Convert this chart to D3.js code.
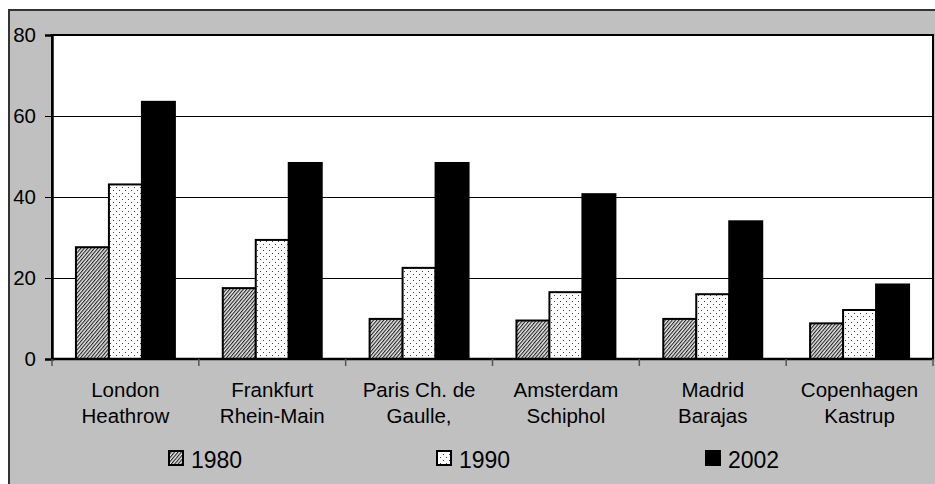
<!DOCTYPE html>
<html><head><meta charset="utf-8">
<script src="https://cdn.jsdelivr.net/npm/d3@7"></script>
<style>html,body{margin:0;padding:0;background:#fff;}svg{display:block;font-family:"Liberation Sans",Arial,sans-serif;}</style>
</head><body>
<svg id="c" width="935" height="484"></svg>
<script>
const categories = ["London\nHeathrow","Frankfurt\nRhein-Main","Paris Ch. de\nGaulle,","Amsterdam\nSchiphol","Madrid\nBarajas","Copenhagen\nKastrup"];
const seriesNames = ["1980","1990","2002"];
const values1980 = [27.6, 17.5, 9.9, 9.5, 9.9, 8.8];
const values1990 = [43.1, 29.4, 22.5, 16.5, 16.0, 12.1];
const values2002 = [63.5, 48.4, 48.4, 40.7, 34.0, 18.4];
const yTicks = [0, 20, 40, 60, 80];

const seriesValues = [values1980, values1990, values2002];
const svg = d3.select("#c");
const defs = svg.append("defs");

// patterns
const p1 = defs.append("pattern").attr("id","pat1980").attr("patternUnits","userSpaceOnUse")
  .attr("width",2.6).attr("height",3).attr("patternTransform","rotate(40)");
p1.append("rect").attr("width",2.6).attr("height",3).attr("fill","#e8e8e8");
p1.append("rect").attr("width",1.1).attr("height",3).attr("fill","#222");
const p2 = defs.append("pattern").attr("id","pat1990").attr("patternUnits","userSpaceOnUse")
  .attr("width",6).attr("height",6);
p2.append("rect").attr("width",6).attr("height",6).attr("fill","#fff");
p2.append("rect").attr("x",2).attr("y",1).attr("width",1).attr("height",1).attr("fill","#444");
p2.append("rect").attr("x",5).attr("y",4).attr("width",1).attr("height",1).attr("fill","#444");
const fills = ["url(#pat1980)","url(#pat1990)","#000"];

// outer frame
svg.append("rect").attr("x",9).attr("y",10).attr("width",940).attr("height",490)
  .attr("fill","#c0c0c0").attr("stroke","#333").attr("stroke-width",2);

const L = 52, R = 933, T = 35, B = 359;
const y = d3.scaleLinear().domain([0,80]).range([B,T]);
const x0 = d3.scaleBand().domain(categories).range([L,R]).paddingInner(0.326).paddingOuter(0.163);
const x1 = d3.scaleBand().domain(seriesNames).range([0,x0.bandwidth()]);

// plot area
svg.append("rect").attr("x",L).attr("y",T).attr("width",R-L).attr("height",B-T)
  .attr("fill","#fff").attr("stroke","#000").attr("stroke-width",2);

// gridlines
svg.append("g").selectAll("line").data(yTicks.filter(d=>d>0)).join("line")
  .attr("x1",L).attr("x2",R).attr("y1",d=>y(d)).attr("y2",d=>y(d))
  .attr("stroke","#000").attr("stroke-width",d=>d===80?2:1).attr("shape-rendering","crispEdges");

// bars
const gBars = svg.append("g");
categories.forEach((c,i)=>{
  seriesNames.forEach((s,j)=>{
    const v = seriesValues[j][i];
    gBars.append("rect")
      .attr("x", x0(c)+x1(s)).attr("width", x1.bandwidth())
      .attr("y", y(v)).attr("height", y(0)-y(v))
      .attr("fill", fills[j]).attr("stroke","#000").attr("stroke-width",2);
  });
});

// y axis
const yAxis = d3.axisLeft(y).tickValues(yTicks).tickSize(7).tickPadding(9);
const gy = svg.append("g").attr("transform",`translate(${L},0)`).call(yAxis);
gy.select(".domain").attr("stroke","#000").attr("stroke-width",2.5);
gy.selectAll(".tick line").attr("stroke","#000").attr("stroke-width",1);
gy.selectAll(".tick text").attr("font-size",20.5).attr("fill","#000")
  .attr("font-family","'Liberation Sans',Arial,sans-serif").attr("dy","0.34em");

// x axis baseline and ticks
svg.append("line").attr("x1",L).attr("x2",R).attr("y1",B).attr("y2",B)
  .attr("stroke","#000").attr("stroke-width",2.5);
const bounds = d3.range(categories.length+1).map(k=>L + k*x0.step());
svg.append("g").selectAll("line").data(bounds).join("line")
  .attr("x1",d=>d).attr("x2",d=>d).attr("y1",B).attr("y2",B+7)
  .attr("stroke","#555").attr("stroke-width",1.5);

// category labels
const gl = svg.append("g");
categories.forEach(c=>{
  const t = gl.append("text").attr("text-anchor","middle").attr("font-size",20.5).attr("fill","#000");
  c.split("\n").forEach((line,k)=>{
    t.append("tspan").attr("x", x0(c)+x0.bandwidth()/2).attr("y", 397 + k*26).text(line);
  });
});

// legend
const legX = [169, 437, 706];
const leg = svg.append("g");
seriesNames.forEach((s,j)=>{
  leg.append("rect").attr("x",legX[j]).attr("y",451).attr("width",14).attr("height",14)
    .attr("fill",fills[j]).attr("stroke","#000").attr("stroke-width",2);
  leg.append("text").attr("x",legX[j]+22).attr("y",468).attr("font-size",23).attr("fill","#000").text(s);
});
</script>
</body></html>
